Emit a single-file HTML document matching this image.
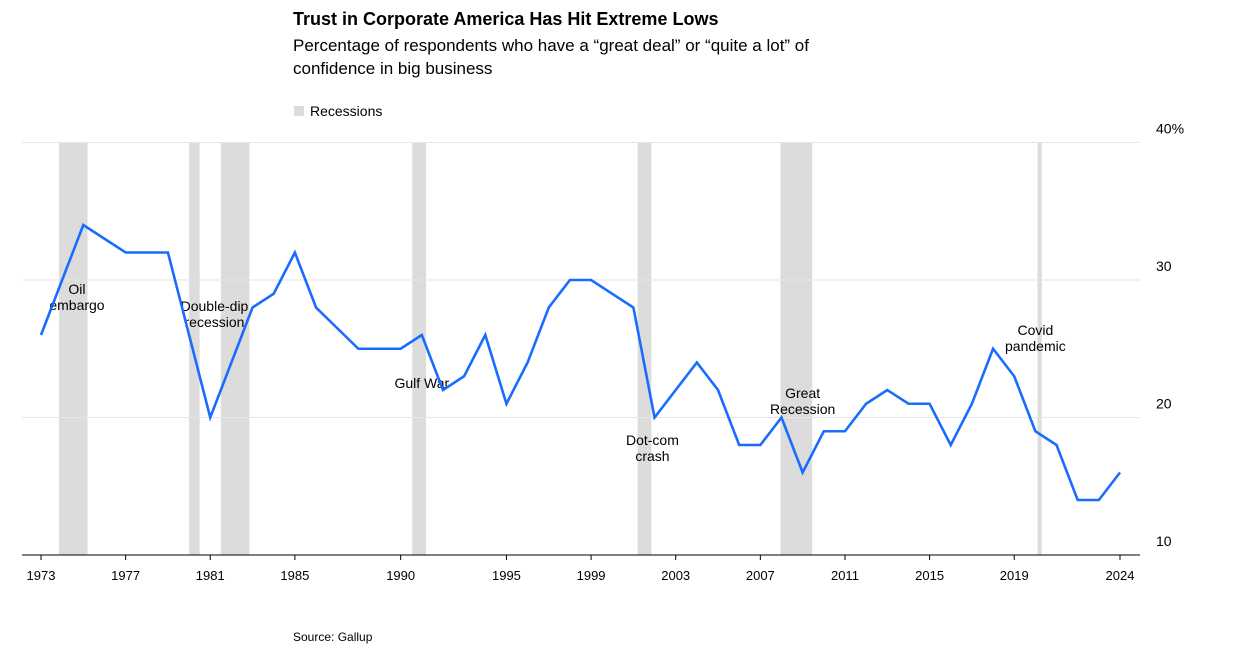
<!DOCTYPE html>
<html><head><meta charset="utf-8"><style>
body{margin:0;background:#fff;font-family:"Liberation Sans",sans-serif;}
#c{position:relative;width:1236px;height:662px;overflow:hidden}
</style></head><body>
<div id="c">
<div style="position:absolute;left:293px;top:9px;font-size:18px;font-weight:bold;color:#000">Trust in Corporate America Has Hit Extreme Lows</div>
<div style="position:absolute;left:293px;top:34px;font-size:17px;line-height:23px;color:#000;width:590px">Percentage of respondents who have a “great deal” or “quite a lot” of confidence in big business</div>
<div style="position:absolute;left:294px;top:103px;font-size:14px;color:#000"><span style="display:inline-block;width:10px;height:10px;background:#dcdcdc;margin-right:6px"></span>Recessions</div>
<div style="position:absolute;left:293px;top:630px;font-size:12px;color:#000">Source: Gallup</div>
<svg id="s" width="1236" height="662" style="position:absolute;left:0;top:0"></svg>
</div>
<script>
const years=[1973,1975,1977,1979,1981,1983,1984,1985,1986,1988,1990,1991,1992,1993,1994,1995,1996,1997,1998,1999,2001,2002,2003,2004,2005,2006,2007,2008,2009,2010,2011,2012,2013,2014,2015,2016,2017,2018,2019,2020,2021,2022,2023,2024];
const values=[26,34,32,32,20,28,29,32,28,25,25,26,22,23,26,21,24,28,30,30,28,20,22,24,22,18,18,20,16,19,19,21,22,21,21,18,21,25,23,19,18,14,14,16];
const recStart=[1973.85,1980.0,1981.5,1990.55,2001.2,2007.95,2020.1];
const recEnd=[1975.2,1980.5,1982.85,1991.2,2001.85,2009.45,2020.3];
const xTicks=[1973,1977,1981,1985,1990,1995,1999,2003,2007,2011,2015,2019,2024];
const yTicks=[10,20,30,40];
const yLabels=["10","20","30","40%"];
const notes=[["Oil","embargo"],["Double-dip","recession"],["Gulf War"],["Dot-com","crash"],["Great","Recession"],["Covid","pandemic"]];
const noteX=[1974.7,1981.2,1991.0,2001.9,2009.0,2020.0];
const noteY=[289,306,383,440,393,330];
const X=y=>41+(y-1973)*(1120-41)/51;
const Y=v=>555-(v-10)*13.75;
const s=document.getElementById('s');const NS="http://www.w3.org/2000/svg";
function mk(t,a){const e=document.createElementNS(NS,t);for(const k in a)e.setAttribute(k,a[k]);s.appendChild(e);return e;}
recStart.forEach((r,i)=>{const e=mk('rect',{x:X(r),y:142,width:X(recEnd[i])-X(r),height:413,fill:'#dcdcdc'});

});
yTicks.forEach((v,i)=>{const l=mk('line',{x1:22,x2:1140,y1:Y(v),y2:Y(v),stroke:v==10?'#000':'#e6e6e6','stroke-width':1});


const t=mk('text',{x:1156,y:Y(v)-9,'font-size':14,fill:'#000'});t.textContent=yLabels[i];

});
xTicks.forEach(yr=>{mk('line',{x1:X(yr),x2:X(yr),y1:555,y2:560,stroke:'#000'});
const t=mk('text',{x:X(yr),y:580,'font-size':13,'text-anchor':'middle',fill:'#000'});t.textContent=yr;

});
notes.forEach((n,i)=>{n.forEach((ln,j)=>{const t=mk('text',{x:X(noteX[i]),y:noteY[i]+j*16+5,'font-size':14,'text-anchor':'middle',fill:'#000'});t.textContent=ln;

});});
const p=mk('polyline',{points:years.map((y,i)=>X(y)+','+Y(values[i])).join(' '),fill:'none',stroke:'#1a6cff','stroke-width':2.6,'stroke-linejoin':'miter'});


</script>
</body></html>
